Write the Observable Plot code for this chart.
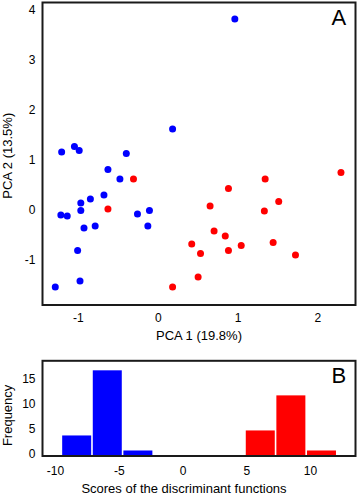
<!DOCTYPE html>
<html>
<head>
<meta charset="utf-8">
<script src="https://cdn.jsdelivr.net/npm/d3@7"></script>
<script src="https://cdn.jsdelivr.net/npm/@observablehq/plot@0.6"></script>
<style>
  html, body { margin: 0; padding: 0; background: #fff; }
  #wrap { position: relative; width: 358px; height: 500px; overflow: hidden; }
  #wrap svg { position: absolute; left: 0; }
</style>
</head>
<body>
<div id="wrap"></div>
<script>
// ---- Panel A: PCA scores ----
const blueX = [-1.21, -1.05, -0.99, -0.40, -0.63, -0.48, -0.68, -0.85, -0.97, -0.97, -1.22, -1.14, -0.93, -0.79, -0.26, -0.11, -0.13, -1.01, -0.98, -1.29, 0.18, 0.96];
const blueY = [1.17, 1.28, 1.20, 1.14, 0.82, 0.63, 0.31, 0.23, 0.15, 0.00, -0.09, -0.11, -0.35, -0.31, -0.07, 0.00, -0.31, -0.80, -1.41, -1.53, 1.63, 3.83];
const redX = [-0.31, -0.63, 0.18, 2.29, 1.34, 0.88, 1.51, 0.65, 1.33, 0.70, 0.84, 0.42, 0.53, 0.88, 1.04, 1.44, 1.72, 0.50];
const redY = [0.63, 0.03, -1.53, 0.76, 0.63, 0.44, 0.18, 0.09, -0.01, -0.41, -0.51, -0.67, -0.86, -0.80, -0.70, -0.64, -0.89, -1.33];
const pcaXTicks = [-1, 0, 1, 2];
const pcaYTicks = [-1, 0, 1, 2, 3, 4];

// ---- Panel B: histogram of discriminant scores ----
const blueBinStart = [-9.5, -7.1, -4.7];
const blueBinEnd   = [-7.1, -4.7, -2.3];
const blueCounts   = [4, 17, 1];
const redBinStart  = [4.9, 7.3, 9.7];
const redBinEnd    = [7.3, 9.7, 12.1];
const redCounts    = [5, 12, 1];
const histXTicks = [-10, -5, 0, 5, 10];
const histYTicks = [0, 5, 10, 15];

const FONT = "Liberation Sans, Arial, Helvetica, sans-serif";
const BLUE = "#0000ff", RED = "#ff0000";
const fmt = d => String(d);

const pts = [
  ...blueX.map((x, i) => ({x, y: blueY[i], g: "blue"})),
  ...redX.map((x, i) => ({x, y: redY[i], g: "red"}))
];
const bins = [
  ...blueCounts.map((c, i) => ({x1: blueBinStart[i], x2: blueBinEnd[i], n: c, g: "blue"})),
  ...redCounts.map((c, i) => ({x1: redBinStart[i], x2: redBinEnd[i], n: c, g: "red"}))
];

const colorScale = {domain: ["blue", "red"], range: [BLUE, RED]};

const panelA = Plot.plot({
  width: 358, height: 350,
  marginLeft: 42, marginRight: 3, marginTop: 2, marginBottom: 45.5,
  style: {fontFamily: FONT, fontSize: "12px", color: "#000", background: "transparent"},
  x: {domain: [-1.45, 2.472]},
  y: {domain: [-1.89, 4.16]},
  color: colorScale,
  marks: [
    Plot.axisX({ticks: pcaXTicks, tickFormat: fmt, tickSize: 0, tickPadding: 8, label: null, fontSize: 12}),
    Plot.axisY({ticks: pcaYTicks, tickFormat: fmt, tickSize: 0, tickPadding: 7, label: null, fontSize: 12}),
    Plot.dot(pts, {x: "x", y: "y", fill: "g", r: 3.5, stroke: "none"}),
    Plot.frame({stroke: "#1a1a1a", strokeWidth: 2}),
    Plot.text(["A"], {frameAnchor: "top-right", textAnchor: "end", lineAnchor: "top", dx: -9.3, dy: 6.7, fontSize: 22, fill: "#000"}),
    Plot.text(["PCA 1 (19.8%)"], {frameAnchor: "bottom", textAnchor: "middle", lineAnchor: "middle", dy: 31, fontSize: 13, fill: "#000"}),
    Plot.text(["PCA 2 (13.5%)"], {frameAnchor: "left", textAnchor: "middle", lineAnchor: "middle", rotate: -90, dx: -35, dy: 2, fontSize: 13, fill: "#000"})
  ]
});
panelA.style.top = "0px";

const panelB = Plot.plot({
  width: 358, height: 150,
  marginLeft: 42, marginRight: 3, marginTop: 10.3, marginBottom: 44.5,
  style: {fontFamily: FONT, fontSize: "12px", color: "#000", background: "transparent"},
  x: {domain: [-11.02, 13.53]},
  y: {domain: [0, 19]},
  color: colorScale,
  marks: [
    Plot.axisX({ticks: histXTicks, tickFormat: fmt, tickSize: 0, tickPadding: 10, label: null, fontSize: 12}),
    Plot.axisY({ticks: histYTicks, tickFormat: fmt, tickSize: 0, tickPadding: 7, label: null, fontSize: 12, dy: -2}),
    Plot.rectY(bins, {x1: "x1", x2: "x2", y1: 0, y2: "n", fill: "g", insetLeft: 0.8, insetRight: 0.8}),
    Plot.frame({stroke: "#1a1a1a", strokeWidth: 2}),
    Plot.text(["B"], {frameAnchor: "top-right", textAnchor: "end", lineAnchor: "top", dx: -9.3, dy: 6.4, fontSize: 22, fill: "#000"}),
    Plot.text(["Scores of the discriminant functions"], {frameAnchor: "bottom", textAnchor: "middle", lineAnchor: "middle", dx: -15, dy: 32.5, fontSize: 13, fill: "#000"}),
    Plot.text(["Frequency"], {frameAnchor: "left", textAnchor: "middle", lineAnchor: "middle", rotate: -90, dx: -35, dy: 7, fontSize: 13, fill: "#000"})
  ]
});
panelB.style.top = "350px";

const wrap = document.getElementById("wrap");
wrap.appendChild(panelA);
wrap.appendChild(panelB);
</script>
</body>
</html>
